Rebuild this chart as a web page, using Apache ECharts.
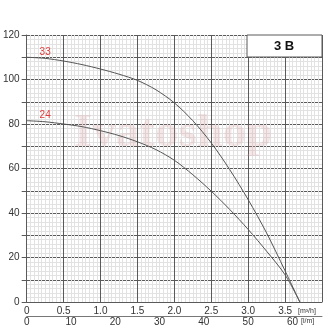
<!DOCTYPE html>
<html>
<head>
<meta charset="utf-8">
<script src="https://cdn.jsdelivr.net/npm/echarts@6/dist/echarts.min.js"></script>
<style>html,body{margin:0;padding:0;background:#fff}#c{width:329px;height:330px}</style>
</head>
<body>
<div id="c"></div>
<script>
var flowM3h = [0, 0.25, 0.5, 0.75, 1.0, 1.25, 1.5, 1.75, 2.0, 2.25, 2.5, 2.75, 3.0, 3.25, 3.5, 3.7];
var head33 = [110, 109.5, 108.3, 106.7, 104.7, 102.4, 99.6, 95.4, 89.5, 81.5, 71.5, 59.5, 46, 31, 14, 0];
var head24 = [81.5, 81, 80, 78.8, 77, 74.8, 72, 68.5, 63.7, 57.2, 49.8, 41.6, 32.6, 22.8, 12.2, 0];
var curveNames = ['33', '24'];
var title = '3 B';
var unitM3h = '[m³/h]';
var unitLmin = '[l/m]';

function buildData(vals, name) {
  return flowM3h.map(function (q, i) {
    var d = { value: [q, vals[i]] };
    if (i === 1) {
      d.label = { show: true, formatter: name, position: 'top', distance: 1, color: '#e03a3a', fontSize: 10, fontFamily: 'Liberation Sans' };
    }
    return d;
  });
}

var chart = echarts.init(document.getElementById('c'), null, { renderer: 'canvas' });
var major = '#5a5a5a', minor = '#e2e2e2', txt = '#333';
chart.setOption({
  animation: false,
  grid: { left: 25, top: 35, right: 7, bottom: 28, containLabel: false },
  xAxis: [{
    type: 'value', min: 0, max: 4, interval: 0.5,
    axisLine: { show: true, onZero: false, lineStyle: { color: major } },
    axisTick: { show: false },
    axisLabel: { color: txt, fontSize: 10, fontFamily: 'Liberation Sans', margin: 4,
      formatter: function (v) { if (v >= 4) return ''; return v === 0 ? '0' : v.toFixed(1); } },
    splitLine: { show: true, lineStyle: { color: major, width: 1 } },
    minorTick: { show: true, splitNumber: 10, length: 0 },
    minorSplitLine: { show: true, lineStyle: { color: minor, width: 1 } }
  }, {
    type: 'value', position: 'bottom', offset: 14, min: 0, max: 4000 / 60, interval: 10,
    axisLine: { show: true, onZero: false, lineStyle: { color: '#777' } },
    axisTick: { show: false },
    axisLabel: { color: txt, fontSize: 10, fontFamily: 'Liberation Sans', margin: 1,
      formatter: function (v) { return v > 60 ? '' : String(v); } },
    splitLine: { show: false }
  }],
  yAxis: {
    type: 'value', min: 0, max: 120, interval: 10,
    axisLine: { show: true, lineStyle: { color: major } },
    axisTick: { show: true, length: 5, lineStyle: { color: major } },
    axisLabel: { color: txt, fontSize: 10, fontFamily: 'Liberation Sans', margin: 7,
      formatter: function (v) { return v % 20 === 0 ? String(v) : ''; } },
    splitLine: { show: true, lineStyle: { color: major, width: 1 } },
    minorTick: { show: true, splitNumber: 5, length: 0 },
    minorSplitLine: { show: true, lineStyle: { color: minor, width: 1 } }
  },
  graphic: [
    { type: 'text', left: 74, top: 110, z: 1, silent: true,
      style: { text: 'Ivatoshop', fontSize: 47, fontWeight: 'bold', fontFamily: 'Liberation Serif', fill: 'rgba(215,160,165,0.25)' } },
    { type: 'rect', shape: { x: 247, y: 35, width: 75, height: 22 }, z: 5,
      style: { fill: '#fff', stroke: major, lineWidth: 1 } },
    { type: 'text', z: 6, style: { text: title, x: 284, y: 46, align: 'center', verticalAlign: 'middle', fontSize: 13, fontWeight: 'bold', fontFamily: 'Liberation Sans', fill: '#111' } },
    { type: 'text', z: 6, style: { text: unitM3h, x: 298, y: 311, align: 'left', verticalAlign: 'middle', fontSize: 7, fontFamily: 'Liberation Sans', fill: txt } },
    { type: 'text', z: 6, style: { text: unitLmin, x: 301, y: 321, align: 'left', verticalAlign: 'middle', fontSize: 7, fontFamily: 'Liberation Sans', fill: txt } }
  ],
  series: [
    { type: 'line', name: curveNames[0], smooth: 0.3, symbol: 'circle', symbolSize: 1, showSymbol: true, showAllSymbol: true, xAxisIndex: 0,
      itemStyle: { color: 'rgba(0,0,0,0)' },
      lineStyle: { color: '#555', width: 1 }, data: buildData(head33, curveNames[0]), z: 3 },
    { type: 'line', name: curveNames[1], smooth: 0.3, symbol: 'circle', symbolSize: 1, showSymbol: true, showAllSymbol: true, xAxisIndex: 0,
      itemStyle: { color: 'rgba(0,0,0,0)' },
      lineStyle: { color: '#555', width: 1 }, data: buildData(head24, curveNames[1]), z: 3 }
  ]
});
</script>
</body>
</html>
